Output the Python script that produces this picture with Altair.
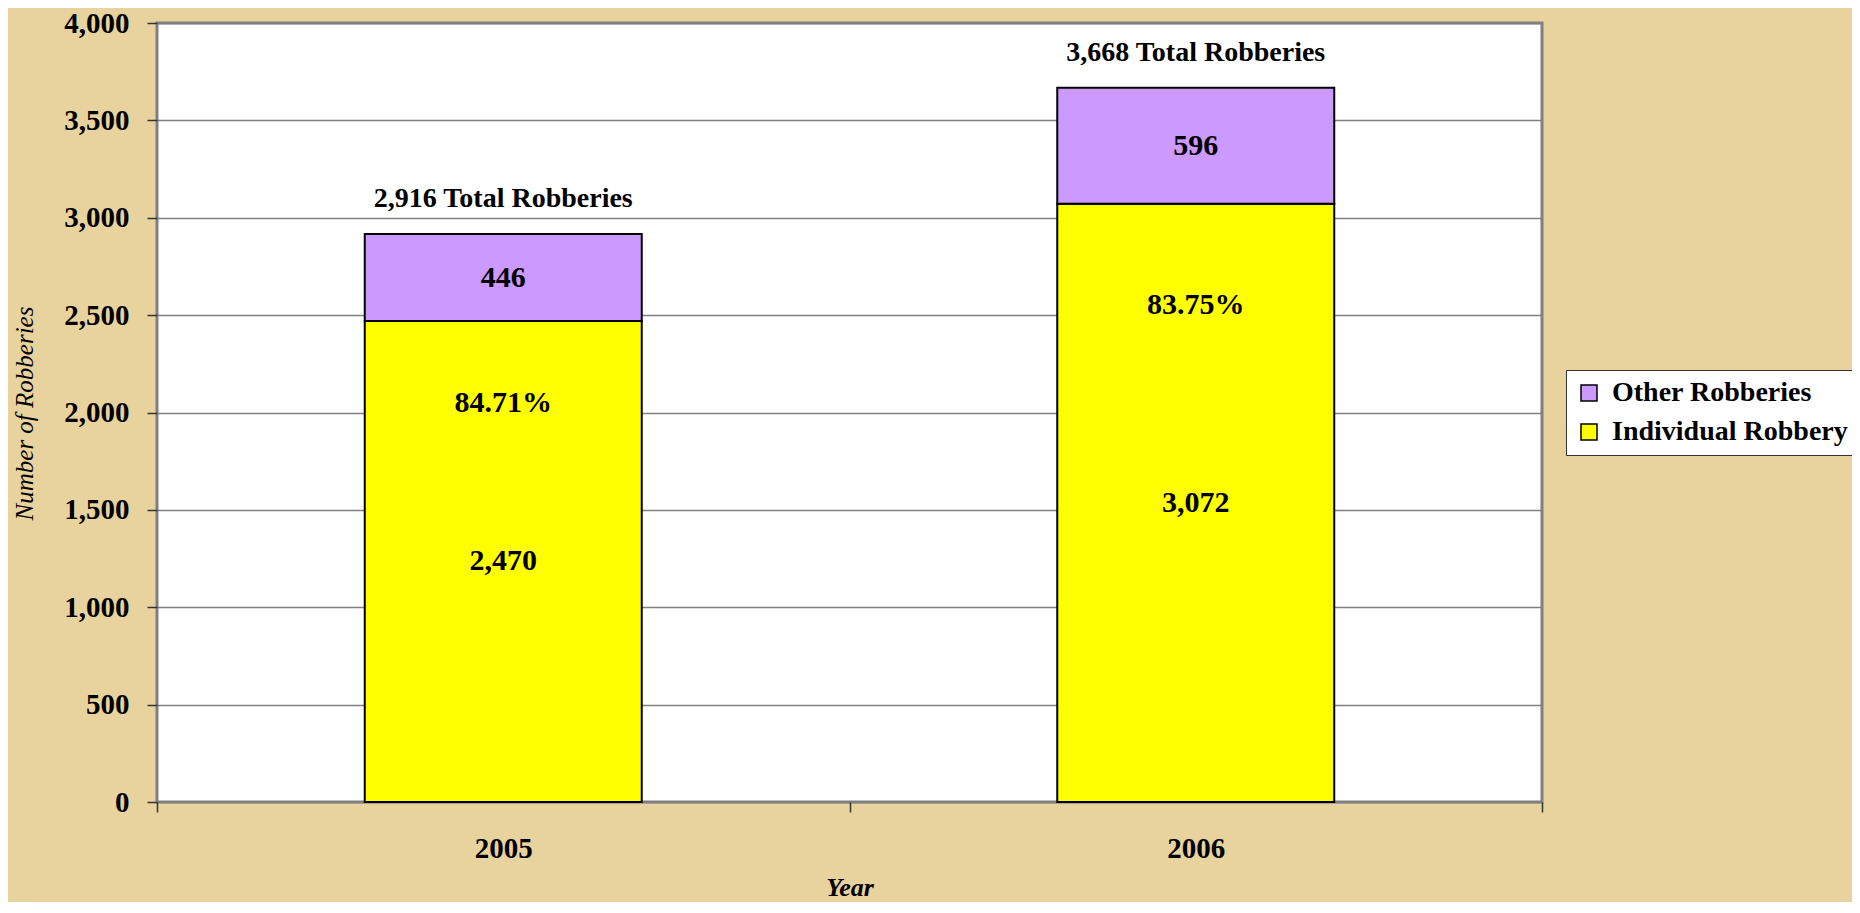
import altair as alt
import pandas as pd

years = ["2005", "2006"]
individual = [2470, 3072]
other = [446, 596]
totals = [2916, 3668]
pct_labels = ["84.71%", "83.75%"]
legend_order = ["Other Robberies", "Individual Robbery"]
colors = ["#CC99FF", "#FFFF00"]
y_ticks = [0, 500, 1000, 1500, 2000, 2500, 3000, 3500, 4000]

FONT = "Liberation Serif"
X_TITLE = "Year"
Y_TITLE = "Number of Robberies"

rows = []
for i, yr in enumerate(years):
    rows.append({"year": yr, "series": "Individual Robbery", "value": individual[i], "ord": 0})
    rows.append({"year": yr, "series": "Other Robberies", "value": other[i], "ord": 1})
bars_df = pd.DataFrame(rows)

lab = []
for i, yr in enumerate(years):
    lab.append({"year": yr, "value": individual[i] / 2, "label": f"{individual[i]:,}"})
    lab.append({"year": yr, "value": individual[i] + other[i] / 2, "label": f"{other[i]:,}"})
    lab.append({"year": yr, "value": individual[i] * 0.83, "label": pct_labels[i]})
lab_df = pd.DataFrame(lab)

tot_df = pd.DataFrame({"year": years, "value": totals,
                       "label": [f"{t:,} Total Robberies" for t in totals]})

x_axis = alt.Axis(title=X_TITLE, labelAngle=0, tickBand="extent")
y_axis = alt.Axis(title=Y_TITLE, values=y_ticks,
                  labelExpr="format(datum.value, ',')")
y_scale = alt.Scale(domain=[0, 4000], nice=False)
x_scale = alt.Scale(paddingInner=0, paddingOuter=0)

bars = alt.Chart(bars_df).mark_bar(
    stroke="black", strokeWidth=2, width=alt.RelativeBandSize(0.4)
).encode(
    x=alt.X("year:N", scale=x_scale, axis=x_axis),
    y=alt.Y("value:Q", stack="zero", scale=y_scale, axis=y_axis),
    color=alt.Color(
        "series:N",
        scale=alt.Scale(domain=legend_order, range=colors),
        legend=alt.Legend(
            title=None, orient="none", legendX=1409, legendY=347,
            symbolType="square", symbolSize=256, symbolStrokeColor="black",
            symbolStrokeWidth=1.5, labelFont=FONT, labelFontWeight="bold",
            labelFontSize=28, labelColor="black", labelLimit=500,
            padding=9, rowPadding=11,
            labelOffset=9, fillColor="white", strokeColor="#333333",
        ),
    ),
    order=alt.Order("ord:Q"),
)

seg_labels = alt.Chart(lab_df).mark_text(
    font=FONT, fontWeight="bold", fontSize=30, color="black", baseline="middle"
).encode(
    x=alt.X("year:N", scale=x_scale, axis=x_axis),
    y=alt.Y("value:Q", scale=y_scale, axis=y_axis),
    text="label:N",
)

tot_labels = alt.Chart(tot_df).mark_text(
    font=FONT, fontWeight="bold", fontSize=28, color="black",
    baseline="alphabetic", dy=-27
).encode(
    x=alt.X("year:N", scale=x_scale, axis=x_axis),
    y=alt.Y("value:Q", scale=y_scale, axis=y_axis),
    text="label:N",
)

chart = alt.layer(bars, seg_labels, tot_labels).properties(
    width=1385, height=779,
    autosize=alt.AutoSizeParams(type="none"),
    padding={"left": 149, "top": 15, "right": 310, "bottom": 100},
    background="#E8D39F",
).configure_view(
    fill="white", stroke="#808080", strokeWidth=3
).configure_axisY(
    grid=True, gridColor="#808080", gridWidth=1.5, domain=False,
    tickSize=10, tickColor="#333333", tickWidth=1.5,
    labelFont=FONT, labelFontWeight="bold", labelFontSize=29,
    labelColor="black", labelPadding=18,
    titleFont=FONT, titleFontStyle="italic", titleFontWeight="normal",
    titleFontSize=25, titleColor="black",
    titleX=-133, titleY=390, titleAngle=-90,
    titleAlign="center", titleBaseline="middle",
).configure_axisX(
    tickSize=10, tickColor="#333333", tickWidth=1.5, domain=False, grid=False,
    labelFont=FONT, labelFontWeight="bold", labelFontSize=29, labelColor="black",
    labelPadding=22,
    titleFont=FONT, titleFontStyle="italic", titleFontWeight="bold",
    titleFontSize=26, titleColor="black", titleY=85, titleBaseline="middle",
)

chart.save("out.html", embed_options={"renderer": "svg", "actions": False})
